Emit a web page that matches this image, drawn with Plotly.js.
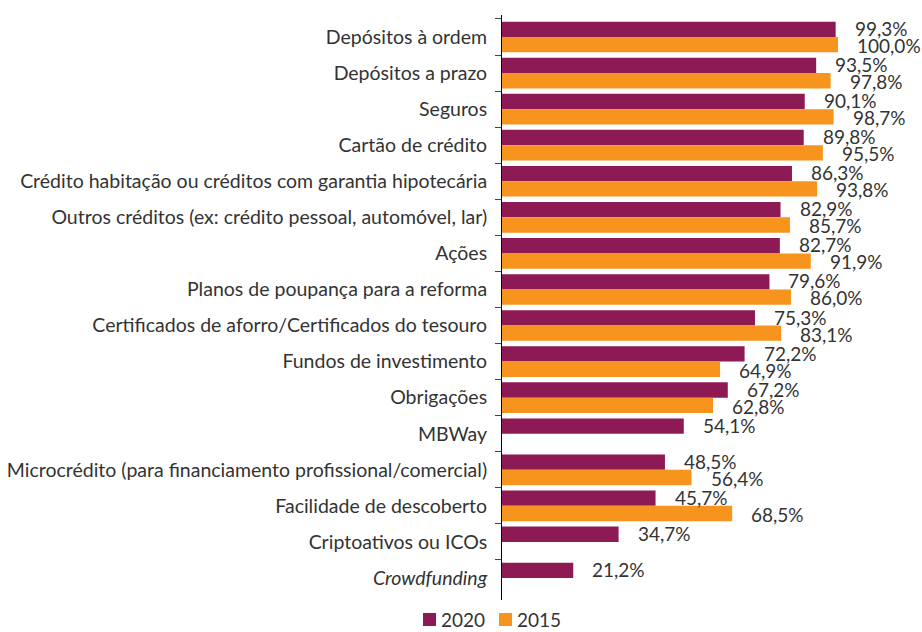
<!DOCTYPE html>
<html><head><meta charset="utf-8">
<script src="https://cdn.plot.ly/plotly-3.0.1.min.js"></script>
<style>html,body{margin:0;padding:0;background:#fff}#c{width:922px;height:632px}</style>
</head><body><div id="c"></div>
<script>
const categories = [
  "Depósitos à ordem",
  "Depósitos a prazo",
  "Seguros",
  "Cartão de crédito",
  "Crédito habitação ou créditos com garantia hipotecária",
  "Outros créditos (ex: crédito pessoal, automóvel, lar)",
  "Ações",
  "Planos de poupança para a reforma",
  "Certificados de aforro/Certificados do tesouro",
  "Fundos de investimento",
  "Obrigações",
  "MBWay",
  "Microcrédito (para financiamento profissional/comercial)",
  "Facilidade de descoberto",
  "Criptoativos ou ICOs",
  "<i>Crowdfunding</i>"
];
const seriesNames = ["2020", "2015"];
const values2020 = [99.3, 93.5, 90.1, 89.8, 86.3, 82.9, 82.7, 79.6, 75.3, 72.2, 67.2, 54.1, 48.5, 45.7, 34.7, 21.2];
const values2015 = [100.0, 97.8, 98.7, 95.5, 93.8, 85.7, 91.9, 86.0, 83.1, 64.9, 62.8, null, 56.4, 68.5, null, null];

const fmt = v => v.toFixed(1).replace('.', ',') + '%';
const C2020 = '#8E1A55', C2015 = '#F7941E';
const font = 'Lato, "Open Sans", sans-serif';
const txt = '#333333';

const traces = [
  {type:'bar', orientation:'h', name:seriesNames[0], y:categories, x:values2020, marker:{color:C2020}, hoverinfo:'x'},
  {type:'bar', orientation:'h', name:seriesNames[1], y:categories, x:values2015, marker:{color:C2015}, hoverinfo:'x'}
];

const annotations = [];
function addLabels(vals, sign) {
  vals.forEach((v, i) => {
    if (v === null) return;
    annotations.push({
      x: v, y: categories[i], xref:'x', yref:'y',
      text: fmt(v), showarrow:false, xanchor:'left', yanchor:'middle',
      xshift: 17, yshift: sign * 8.5,
      font:{family:font, size:19, color:txt}
    });
  });
}
addLabels(values2020, 1);
addLabels(values2015, -1);

// manual legend (pixel -> paper helpers)
const L = 502, W = 336, T = 15, H = 585;
const px = p => (p - L) / W;
const py = p => (T + H - p) / H;
const shapes = [];
[[423, C2020, seriesNames[0]], [499, C2015, seriesNames[1]]].forEach(([x0, col, name]) => {
  shapes.push({type:'rect', xref:'paper', yref:'paper', x0:px(x0), x1:px(x0+13), y0:py(626), y1:py(613),
               fillcolor:col, line:{width:0}});
  annotations.push({xref:'paper', yref:'paper', x:px(x0+17), y:py(619), xanchor:'left', yanchor:'middle',
                    borderpad:0, text:name, showarrow:false, font:{family:font, size:19, color:txt}});
});

const layout = {
  width:922, height:632,
  margin:{l:L, r:922-L-W, t:T, b:632-T-H, autoexpand:false},
  paper_bgcolor:'#fff', plot_bgcolor:'#fff',
  barmode:'group', bargap:0.15, bargroupgap:0,
  font:{family:font, size:19.5, color:txt},
  xaxis:{range:[0,100], visible:false, fixedrange:true},
  yaxis:{autorange:'reversed', type:'category', showline:true, linecolor:'#000', linewidth:1,
         ticks:'outside', tickson:'boundaries', ticklen:6, tickcolor:'#444', ticklabelstandoff:10,
         showgrid:false, zeroline:false, tickfont:{family:font, size:19.5, color:txt}},
  showlegend:false,
  shapes: shapes,
  annotations: annotations
};
Plotly.newPlot('c', traces, layout, {displayModeBar:false, staticPlot:true});
</script></body></html>
